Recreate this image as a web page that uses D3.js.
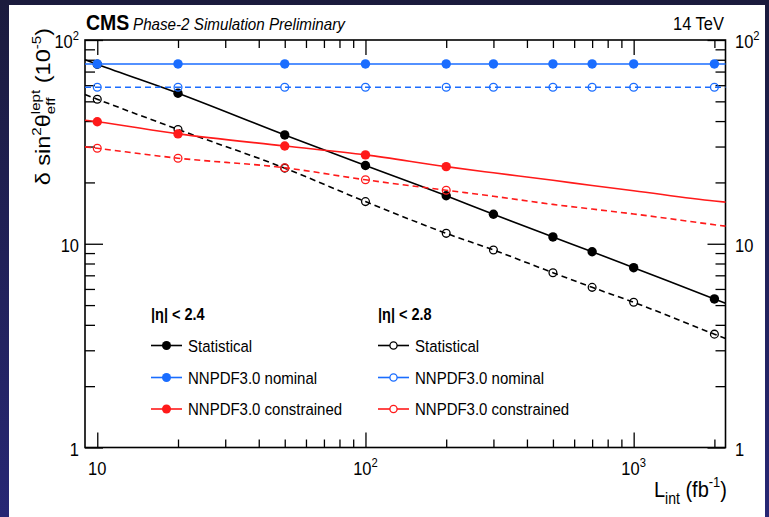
<!DOCTYPE html>
<html>
<head>
<meta charset="utf-8">
<script src="https://cdn.jsdelivr.net/npm/d3@7"></script>
<style>
  html, body { margin: 0; padding: 0; background: #1f1f50; }
  svg { display: block; }
</style>
</head>
<body>
<svg id="chart" width="769" height="517"></svg>
<script>
// ---- data: precision on sin^2(theta_eff^lept) in units of 1e-5 vs integrated luminosity (fb^-1)
const lumi = [10, 20, 50, 100, 200, 300, 500, 700, 1000, 2000];
const lumiConstrained = [10, 20, 50, 100, 200];
const lineLumi = [9, 10, 20, 50, 100, 200, 300, 500, 700, 1000, 2000, 2200];

// |eta| < 2.4
const statEta24 = [76, 54.8, 34.2, 24.2, 17.2, 13.95, 10.8, 9.14, 7.63, 5.36];
const statEta24Line = [80.1, 76, 54.8, 34.2, 24.2, 17.2, 13.95, 10.8, 9.14, 7.63, 5.36, 5.11];
const nominalEta24 = [76.3, 76.3, 76.3, 76.3, 76.3, 76.3, 76.3, 76.3, 76.3, 76.3];
const nominalEta24Line = [76.3, 76.3, 76.3, 76.3, 76.3, 76.3, 76.3, 76.3, 76.3, 76.3, 76.3, 76.3];
const constrEta24 = [39.7, 34.6, 30.2, 27.3, 23.9];
const constrEta24Line = [40.4, 39.7, 34.6, 30.2, 27.3, 23.9, 22.3, 20.5, 19.3, 18.2, 16.2, 16.0];

// |eta| < 2.8
const statEta28 = [51.2, 36.4, 23.5, 16.1, 11.25, 9.32, 7.21, 6.11, 5.16, 3.6];
const statEta28Line = [54.0, 51.2, 36.4, 23.5, 16.1, 11.25, 9.32, 7.21, 6.11, 5.16, 3.6, 3.43];
const nominalEta28 = [58.6, 58.6, 58.6, 58.6, 58.6, 58.6, 58.6, 58.6, 58.6, 58.6];
const nominalEta28Line = [58.6, 58.6, 58.6, 58.6, 58.6, 58.6, 58.6, 58.6, 58.6, 58.6, 58.6, 58.6];
const constrEta28 = [29.4, 26.3, 23.6, 20.6, 18.3];
const constrEta28Line = [29.9, 29.4, 26.3, 23.6, 20.6, 18.3, 17.1, 15.6, 14.8, 14.0, 12.4, 12.2];

// axes
const xDomain = [9, 2200];
const yDomain = [1, 100];
const xMajorTicks = [10, 100, 1000];
const xMajorLabels = ["10", "10^2", "10^3"];
const xMinorTicks = [20, 30, 40, 50, 60, 70, 80, 90, 200, 300, 400, 500, 600, 700, 800, 900, 2000];
const yMajorTicks = [1, 10, 100];
const yMajorLabels = ["1", "10", "10^2"];
const yMinorTicks = [2, 3, 4, 5, 6, 7, 8, 9, 20, 30, 40, 50, 60, 70, 80, 90];

// legend
const legendHeaders = ["|\u03B7| < 2.4", "|\u03B7| < 2.8"];
const legendLabels = ["Statistical", "NNPDF3.0 nominal", "NNPDF3.0 constrained"];

// ---- styles
const FONT = "'Liberation Sans', Arial, Helvetica, sans-serif";
const SY = 1.12;             // glyphs are drawn slightly tall
const BLACK = "#000000", BLUE = "#1a6dff", RED = "#ff1a1a";

const series = [
  { key: "stat28", color: BLACK, dashed: true,  open: true,  mx: lumi, my: statEta28, ly: statEta28Line },
  { key: "stat24", color: BLACK, dashed: false, open: false, mx: lumi, my: statEta24, ly: statEta24Line },
  { key: "con28",  color: RED,   dashed: true,  open: true,  mx: lumiConstrained, my: constrEta28, ly: constrEta28Line },
  { key: "con24",  color: RED,   dashed: false, open: false, mx: lumiConstrained, my: constrEta24, ly: constrEta24Line },
  { key: "nom28",  color: BLUE,  dashed: true,  open: true,  mx: lumi, my: nominalEta28, ly: nominalEta28Line },
  { key: "nom24",  color: BLUE,  dashed: false, open: false, mx: lumi, my: nominalEta24, ly: nominalEta24Line }
];

const svg = d3.select("#chart");

// ---- backdrop
const defs = svg.append("defs");
const grad = defs.append("linearGradient").attr("id", "bg")
  .attr("x1", 0).attr("y1", 0).attr("x2", 0).attr("y2", 1);
grad.append("stop").attr("offset", "0%").attr("stop-color", "#1b1b3d");
grad.append("stop").attr("offset", "100%").attr("stop-color", "#272774");
svg.append("rect").attr("width", 769).attr("height", 517).attr("fill", "url(#bg)");
svg.append("rect").attr("x", 9).attr("y", 5).attr("width", 756).attr("height", 512).attr("fill", "#ffffff");

const P = { left: 85, right: 725.5, top: 40, bottom: 447.5 };
const x = d3.scaleLog().domain(xDomain).range([P.left, P.right]);
const y = d3.scaleLog().domain(yDomain).range([P.bottom, P.top]);

// ---- text helpers
function textAt(parent, tx, ty, anchor, size, opts = {}) {
  const g = parent.append("g").attr("transform", `translate(${tx},${ty}) scale(1,${SY})`);
  return g.append("text")
    .attr("text-anchor", anchor)
    .attr("font-family", FONT)
    .attr("font-size", size)
    .attr("font-weight", opts.weight || "normal")
    .attr("font-style", opts.style || "normal")
    .attr("fill", "#000");
}
function rich(textSel, segs) {
  let cur = 0;
  segs.forEach(s => {
    const ts = textSel.append("tspan").text(s.t).attr("font-size", s.size);
    const off = s.off || 0;
    if (off !== cur) { ts.attr("dy", off - cur); cur = off; }
    if (s.dx) ts.attr("dx", s.dx);
  });
}
function powerLabel(textSel, str, size) {
  const parts = str.split("^");
  const segs = [{ t: parts[0], size: size }];
  if (parts[1]) segs.push({ t: parts[1], size: size * 0.68, off: -size * 0.45 });
  rich(textSel, segs);
}

// ---- ticks (inward on all four sides) via d3 axes
function tickLayer(axisFn, scale, values, len, transform) {
  const g = svg.append("g").attr("transform", transform)
    .call(axisFn(scale).tickValues(values).tickSizeInner(-len).tickSizeOuter(0).tickFormat(""));
  g.select(".domain").remove();
  g.selectAll(".tick line").attr("stroke", "#000").attr("stroke-width", 1.3);
}
tickLayer(d3.axisBottom, x, xMajorTicks, 15, `translate(0,${P.bottom})`);
tickLayer(d3.axisBottom, x, xMinorTicks, 8, `translate(0,${P.bottom})`);
tickLayer(d3.axisTop, x, xMajorTicks, 15, `translate(0,${P.top})`);
tickLayer(d3.axisTop, x, xMinorTicks, 8, `translate(0,${P.top})`);
tickLayer(d3.axisLeft, y, yMajorTicks, 18, `translate(${P.left},0)`);
tickLayer(d3.axisLeft, y, yMinorTicks, 10, `translate(${P.left},0)`);
tickLayer(d3.axisRight, y, yMajorTicks, 18, `translate(${P.right},0)`);
tickLayer(d3.axisRight, y, yMinorTicks, 10, `translate(${P.right},0)`);

// frame
svg.append("rect")
  .attr("x", P.left).attr("y", P.top)
  .attr("width", P.right - P.left).attr("height", P.bottom - P.top)
  .attr("fill", "none").attr("stroke", "#000").attr("stroke-width", 1.6);

// tick labels
const TL = 16.5;
xMajorTicks.forEach((v, i) => {
  powerLabel(textAt(svg, x(v), 475, "middle", TL), xMajorLabels[i], TL);
});
yMajorTicks.forEach((v, i) => {
  powerLabel(textAt(svg, 79, y(v) + 8, "end", TL), yMajorLabels[i], TL);
  powerLabel(textAt(svg, 735, y(v) + 8, "start", TL), yMajorLabels[i], TL);
});

// ---- series
const plot = svg.append("g");
const lineGen = d3.line().x(d => x(d[0])).y(d => y(d[1])).curve(d3.curveMonotoneX);

series.forEach(s => {
  plot.append("path")
    .datum(d3.zip(lineLumi, s.ly))
    .attr("d", lineGen)
    .attr("fill", "none")
    .attr("stroke", s.color)
    .attr("stroke-width", 1.6)
    .attr("stroke-dasharray", s.dashed ? "6,4" : null);
  plot.selectAll(null)
    .data(d3.zip(s.mx, s.my))
    .join("circle")
    .attr("cx", d => x(d[0]))
    .attr("cy", d => y(d[1]))
    .attr("r", s.open ? 3.9 : 4.7)
    .attr("fill", s.open ? "none" : s.color)
    .attr("stroke", s.color)
    .attr("stroke-width", s.open ? 1.3 : 0);
});

// ---- legend
const legendCols = [
  { x: 151, header: legendHeaders[0], items: ["stat24", "nom24", "con24"] },
  { x: 378, header: legendHeaders[1], items: ["stat28", "nom28", "con28"] }
];
const rowY = [345.5, 377.5, 409];
const lg = svg.append("g");
legendCols.forEach(col => {
  textAt(lg, col.x, 320, "start", 14.5, { weight: "bold" }).text(col.header);
  col.items.forEach((k, i) => {
    const s = series.find(d => d.key === k);
    const cy = rowY[i];
    lg.append("line")
      .attr("x1", col.x).attr("x2", col.x + 31).attr("y1", cy).attr("y2", cy)
      .attr("stroke", s.color).attr("stroke-width", 1.6);
    lg.append("circle")
      .attr("cx", col.x + 15.5).attr("cy", cy)
      .attr("r", s.open ? 3.6 : 4.5)
      .attr("fill", s.open ? "#fff" : s.color)
      .attr("stroke", s.color).attr("stroke-width", s.open ? 1.3 : 0);
    textAt(lg, col.x + 37, cy + 6, "start", 15).text(legendLabels[i]);
  });
});

// ---- titles
textAt(svg, 86, 30, "start", 19.5, { weight: "bold" }).text("CMS");
textAt(svg, 133, 30, "start", 15.2, { style: "italic" }).text("Phase-2 Simulation Preliminary");
textAt(svg, 724, 30, "end", 16.5).text("14 TeV");

// x-axis title
rich(textAt(svg, 727, 497, "end", 20), [
  { t: "L", size: 20 },
  { t: "int", size: 14, off: 6 },
  { t: " (fb", size: 20, off: 0 },
  { t: "-1", size: 13, off: -9 },
  { t: ")", size: 20, off: 0 }
]);

// y-axis title (rotated, stacked lept/eff indices)
function measure(str, size) {
  const t = svg.append("text").attr("font-family", FONT).attr("font-size", size).text(str);
  const w = t.node().getComputedTextLength();
  t.remove();
  return w;
}
const yfs = 21, ysm = 13.5;
const wLept = measure("lept", ysm), wEff = measure("eff", ysm);
const yTitle = svg.append("g").attr("transform", `translate(50,28) rotate(-90) scale(${SY},1)`)
  .append("text")
  .attr("text-anchor", "end")
  .attr("font-family", FONT)
  .attr("font-size", yfs)
  .attr("fill", "#000");
rich(yTitle, [
  { t: "\u03B4 sin", size: yfs },
  { t: "2", size: ysm, off: -9 },
  { t: "\u03B8", size: yfs, off: 0 },
  { t: "lept", size: ysm, off: -10 },
  { t: "eff", size: ysm, off: 5, dx: -wLept },
  { t: " (10", size: yfs, off: 0, dx: wLept - wEff },
  { t: "-5", size: ysm, off: -9 },
  { t: ")", size: yfs, off: 0 }
]);
</script>
</body>
</html>
